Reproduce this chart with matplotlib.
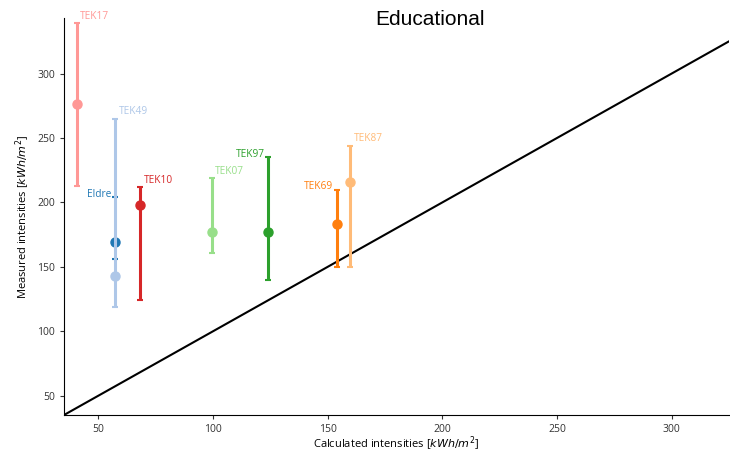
import numpy as np
import matplotlib
matplotlib.use("Agg")
import matplotlib.pyplot as plt

# groups
labels = ["TEK17", "TEK49", "Eldre", "TEK10", "TEK07", "TEK97", "TEK69", "TEK87"]
calc = [40.5, 57.3, 57.3, 68.3, 99.5, 124.0, 154.0, 159.7]
meas = [276, 143, 169, 198, 177, 177, 183, 216]
upper = [339, 265, 204, 212, 219, 235, 210, 244]
lower = [213, 119, 156, 124, 161, 140, 150, 150]
colors = ["#ff9896", "#aec7e8", "#1f77b4", "#d62728",
          "#98df8a", "#2ca02c", "#ff7f0e", "#ffbb78"]
# which side of the top cap the name sits on
side = ["r", "r", "l", "r", "r", "l", "l", "r"]

plt.rcParams['font.family'] = ['Open Sans', 'DejaVu Sans']
plt.rcParams['mathtext.fontset'] = 'dejavusans'

fig = plt.figure(figsize=(7.3, 4.53), dpi=100)
ax = fig.add_axes([0.0877, 0.0839, 0.9109, 0.876])

# y = x reference line
lim = np.array([35, 325])
ax.plot(lim, lim, color="black", lw=1.5, zorder=1)

for i in range(len(labels)):
    yerr = [[meas[i] - lower[i]], [upper[i] - meas[i]]]
    if labels[i] == "Eldre":
        lw, z = 1.0, 1.5   # sits under the TEK49 bar
    else:
        lw, z = 2.2, 2
    ax.errorbar(calc[i], meas[i], yerr=yerr, fmt="o", color=colors[i],
                ms=6.5, elinewidth=lw, capsize=2.5, capthick=1.5, zorder=z)
    if side[i] == "r":
        ax.text(calc[i] + 1.5, upper[i] + 1, labels[i], color=colors[i],
                fontsize=7.3, ha="left", va="bottom")
    else:
        ax.text(calc[i] - 1.5, upper[i] - 2, labels[i], color=colors[i],
                fontsize=7.3, ha="right", va="bottom")

ax.set_xlim(35, 325)
ax.set_ylim(35, 343)
ax.set_xticks([50, 100, 150, 200, 250, 300])
ax.set_yticks([50, 100, 150, 200, 250, 300])
ax.tick_params(labelsize=7.5, length=3, colors="#333333")
ax.spines['top'].set_visible(False)
ax.spines['right'].set_visible(False)
ax.set_xlabel("Calculated intensities [$kWh/m^2$]", fontsize=8, labelpad=0)
ax.set_ylabel("Measured intensities [$kWh/m^2$]", fontsize=8, labelpad=4)

fig.text(0.589, 0.935, "Educational", fontsize=15, family="Liberation Sans",
         ha="center", va="bottom")

fig.savefig("out.png", dpi=100)
